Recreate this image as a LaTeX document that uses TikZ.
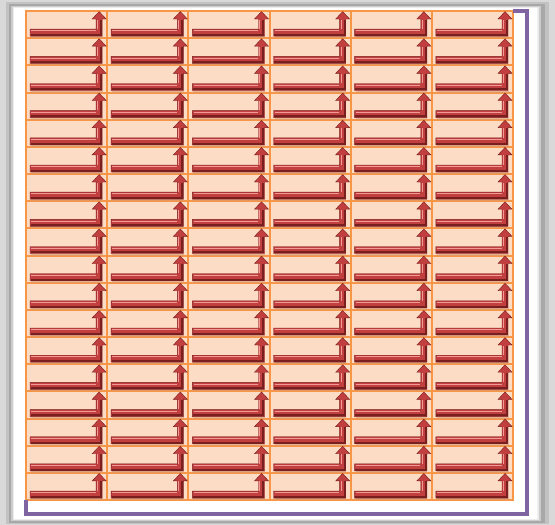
\documentclass[tikz,border=0pt]{standalone}
\definecolor{peach}{HTML}{FCDCC4}
\definecolor{gridorange}{HTML}{F79646}
\definecolor{arrred}{HTML}{C23F3F}
\definecolor{arrdark}{HTML}{7A1F1F}
\definecolor{arrlight}{HTML}{F29A96}
\definecolor{framepurple}{HTML}{8064A2}
\definecolor{shadowtan}{HTML}{D99A70}
\tikzset{
  cellbox/.style={fill=peach, draw=gridorange, line width=2pt},
  arrowbody/.style={fill=arrred, draw=arrdark, line width=0.4pt, line join=miter},
  hilite/.style={draw=arrlight, line width=1pt},
  lowlite/.style={draw=arrdark, line width=2pt},
  softshadow/.style={draw=shadowtan, line width=1.8pt, opacity=0.6},
  purpleline/.style={draw=framepurple, line width=3.2pt, line join=miter}
}
\begin{document}
\begin{tikzpicture}[x=1pt,y=-1pt]
\useasboundingbox (0,0) rectangle (555,525);
% shadowed frame
\fill[black!15] (0,0) rectangle (555,525);
\fill[black!24] (6,2) rectangle (549,524);
\fill[black!34] (9,4) rectangle (545,523);
\fill[black!20] (11,6) rectangle (541,521);
\fill[black!7] (12.5,7) rectangle (539,520);
\fill[white] (14,8) rectangle (537,519);
% cells
\foreach \c in {0,...,5}{
  \foreach \r in {0,...,17}{
    \pgfmathsetmacro{\L}{26+\c*81.17}
    \pgfmathsetmacro{\T}{11+\r*27.17}
    \pgfmathsetmacro{\R}{\L+81.17}
    \pgfmathsetmacro{\B}{\T+27.17}
    \path[cellbox] (\L,\T) rectangle (\R,\B);
  }
}
% arrows
\foreach \c in {0,...,5}{
  \foreach \r in {0,...,17}{
    \pgfmathsetmacro{\L}{26+\c*81.17}
    \pgfmathsetmacro{\T}{11+\r*27.17}
    \pgfmathsetmacro{\R}{\L+81.17}
    \pgfmathsetmacro{\B}{\T+27.17}
    \pgfmathsetmacro{\sx}{\R-8}
    \pgfmathsetmacro{\by}{\B-5.5}
    \pgfmathsetmacro{\bx}{\L+4}
    \path[softshadow] (\bx+1,\by+4.6) -- (\sx+3.5,\by+4.6);
    \path[arrowbody] (\bx,\by-3.5) -- (\sx-3,\by-3.5) -- (\sx-3,\T+8)
      -- (\sx-7,\T+8) -- (\sx,\T+0.6) -- (\sx+7,\T+8)
      -- (\sx+3,\T+8) -- (\sx+3,\by+3.5) -- (\bx,\by+3.5) -- cycle;
    \path[hilite] (\bx+1.2,\by-1.8) -- (\sx-3.5,\by-1.8);
    \path[hilite] (\sx-1.6,\by-3.8) -- (\sx-1.6,\T+8.5);
    \path[lowlite] (\bx+0.5,\by+2.3) -- (\sx+1.9,\by+2.3) -- (\sx+1.9,\T+8.5);
  }
}
% purple bracket
\path[purpleline] (513,11) -- (527,11) -- (527,514) -- (26,514) -- (26,500);
\end{tikzpicture}
\end{document}
